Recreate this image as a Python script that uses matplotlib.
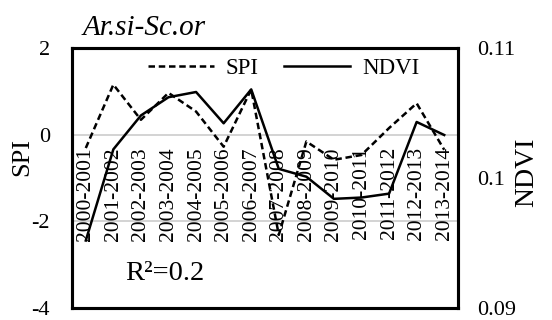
import matplotlib
matplotlib.use("Agg")
import matplotlib.pyplot as plt
from matplotlib.lines import Line2D
import numpy as np

plt.rcParams['font.family'] = ['Liberation Serif', 'DejaVu Serif']

categories = ["2000-2001", "2001-2002", "2002-2003", "2003-2004", "2004-2005",
              "2005-2006", "2006-2007", "2007-2008", "2008-2009", "2009-2010",
              "2010-2011", "2011-2012", "2012-2013", "2013-2014"]
spi = [-0.31, 1.15, 0.34, 0.96, 0.53, -0.28, 1.04, -2.31, -0.16, -0.58,
       -0.47, 0.15, 0.72, -0.35]
ndvi = [0.0952, 0.1022, 0.1048, 0.1062, 0.1066, 0.1042, 0.1068, 0.1007,
        0.1001, 0.0984, 0.0985, 0.0988, 0.1043, 0.1033]
spi_ticks = [-4, -2, 0, 2]
ndvi_ticks = [0.09, 0.1, 0.11]
ndvi_ticklabels = ["0.09", "0.1", "0.11"]
title = "Ar.si-Sc.or"
r2_text = "R²=0.2"

W, H = 552, 320
fig = plt.figure(figsize=(W / 100, H / 100), dpi=100)
fig.subplots_adjust(left=72 / W, right=458 / W, top=1 - 47.7 / H, bottom=1 - 308.3 / H)
ax = fig.add_subplot(111)
ax2 = ax.twinx()

x = np.arange(len(categories))
ax.set_xlim(-0.5, len(categories) - 0.5)
ax.set_ylim(-4, 2)
ax.set_yticks(spi_ticks)
ax.set_yticklabels([str(t) for t in spi_ticks], fontsize=16)
ax.set_xticks([])
for t in [-2, 0]:
    ax.axhline(t, color='#d0d0d0', lw=1.3, zorder=0)

ax2.set_ylim(0.09, 0.11)
ax2.set_yticks(ndvi_ticks)
ax2.set_yticklabels(ndvi_ticklabels, fontsize=16)

ax.tick_params(axis='y', length=0, pad=16)
ax2.tick_params(axis='y', length=0, pad=14)

for a in (ax, ax2):
    for s in a.spines.values():
        s.set_linewidth(2.2)
        s.set_color('black')

for i, lab in enumerate(categories):
    ax.annotate(lab, (x[i], 0), xytext=(0, -9), textcoords='offset points',
                rotation=90, ha='center', va='top', fontsize=15.5, zorder=1)

ls_dash = (0, (2.6, 1.5))
ax.plot(x, spi, color='black', lw=1.8, linestyle=ls_dash, zorder=3)
ax2.plot(x, ndvi, color='black', lw=1.8, zorder=3)

handles = [Line2D([], [], color='black', lw=1.8, linestyle=ls_dash),
           Line2D([], [], color='black', lw=1.8)]
fig.legend(handles, ["SPI", "NDVI"], ncol=2, frameon=False, fontsize=16.5,
           loc='center', bbox_to_anchor=(283.5 / W, 1 - 68 / H),
           handlelength=2.9, handletextpad=0.5, columnspacing=1.1,
           borderpad=0, borderaxespad=0)

fig.text(83 / W, 1 - 35 / H, title, style='italic', fontsize=21, va='baseline', ha='left')
fig.text(22 / W, 1 - 157 / H, "SPI", rotation=90, fontsize=19, ha='center', va='center')
fig.text(527 / W, 1 - 172 / H, "NDVI", rotation=90, fontsize=20, ha='center', va='center')
ax.text(165 / W, 1 - 273 / H, r2_text, transform=fig.transFigure, fontsize=20.5,
        ha='center', va='center')

fig.savefig("out.png", dpi=100)
